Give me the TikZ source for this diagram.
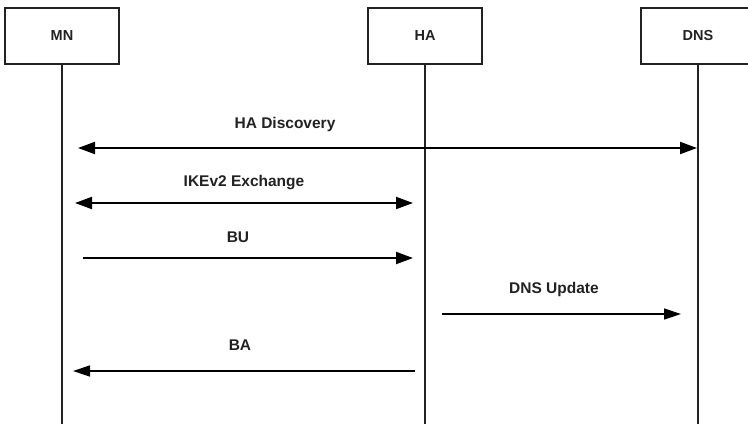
\documentclass[tikz,border=0pt]{standalone}
\usepackage{fontspec}
\setmainfont{Liberation Sans}
\usetikzlibrary{arrows.meta}
\definecolor{ink}{HTML}{222222}
\begin{document}
\begin{tikzpicture}[x=1pt,y=-1pt,
  actor/.style={draw=ink,line width=1.4pt,minimum width=114pt,minimum height=56pt,inner sep=0pt,
    font=\fontsize{14.5}{16}\selectfont\bfseries,text=ink},
  life/.style={draw=ink,line width=1.1pt},
  thickmsg/.style={draw=black,line width=2pt,{Triangle[length=17pt,width=12pt]}-{Triangle[length=17pt,width=12pt]}},
  msgr/.style={draw=black,line width=2pt,-{Triangle[length=17pt,width=12pt]}},
  thinmsg/.style={draw=black,line width=1.4pt,-{Triangle[length=17pt,width=11pt]}},
  lbl/.style={font=\fontsize{15.5}{17}\selectfont\bfseries,text=ink,inner sep=1pt}]
\useasboundingbox (0,0) rectangle (748,424);
% actors
\node[actor] (mn) at (62,36) {MN};
\node[actor] (ha) at (425,36) {HA};
\node[actor] (dns) at (698,36) {DNS};
% lifelines
\coordinate (mnb) at (62,424);
\coordinate (hab) at (425,424);
\coordinate (dnsb) at (698,424);
\draw[life] (mn.south) -- (mnb);
\draw[life] (ha.south) -- (hab);
\draw[life] (dns.south) -- (dnsb);
% HA Discovery
\coordinate (d1) at (78,148);
\coordinate (d2) at (697,148);
\draw[thickmsg] (d1) -- (d2);
\node[lbl] (l1) at (285,124) {HA Discovery};
% IKEv2 Exchange
\coordinate (i1) at (75,203);
\coordinate (i2) at (413,203);
\draw[thickmsg] (i1) -- (i2);
\node[lbl] (l2) at (244,183) {IKEv2 Exchange};
% BU
\coordinate (b1) at (83,258);
\coordinate (b2) at (413,258);
\draw[msgr] (b1) -- (b2);
\node[lbl] (l3) at (238,237) {BU};
% DNS Update
\coordinate (u1) at (442,314);
\coordinate (u2) at (681,314);
\draw[thinmsg] (u1) -- (u2);
\node[lbl] (l4) at (554,289) {DNS Update};
% BA
\coordinate (a1) at (415,371);
\coordinate (a2) at (73,371);
\draw[thinmsg] (a1) -- (a2);
\node[lbl] (l5) at (240,345) {BA};
\end{tikzpicture}
\end{document}
